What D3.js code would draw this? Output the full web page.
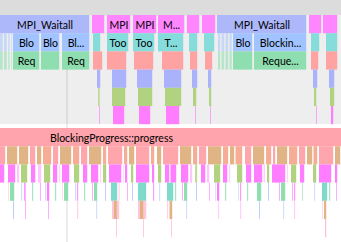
<!DOCTYPE html>
<html><head><meta charset="utf-8">
<script src="https://cdn.jsdelivr.net/npm/d3@7"></script>
<style>html,body{margin:0;padding:0;background:#fff;overflow:hidden}</style>
</head><body><svg id="c" width="341" height="242"></svg>
<script>
// ---------- DATA (label, start time, end time, category) ----------
const timeDomain = [0, 341];

const topDepth0 = [
  ["MPI_Waitall",0,90,"waitall"],["",92,105,"mpi"],["MPI",107,131,"mpi"],["MPI",133,157,"mpi"],
  ["M...",158,185,"mpi"],["",187,200,"mpi"],["",202,216,"mpi"],["MPI_Waitall",217,307,"waitall"],
  ["",309,322,"mpi"],["",323,338,"mpi"]
];
const topDepth1 = [
  ["",0,3.5,"bloPale"],["",4,7.5,"bloPale"],["",8,10.5,"bloPale"],["",11,12.5,"bloPale"],
  ["Blo",13,40,"blo"],["Blo",41,60,"blo"],["Bl...",62,90,"blo"],["",93,101,"too"],
  ["Too",107,129,"too"],["Too",133,155,"too"],["T...",158,184,"too"],["",189,198,"too"],["",204,215,"too"],
  ["",218,221,"bloPale"],["",221.5,225,"bloPale"],["",225.5,229,"bloPale"],["",229.5,232.5,"bloPale"],
  ["Blo",233,253,"blo"],["Blockin...",254,307,"blo"],["",311,320,"too"],["",326,338,"too"]
];
const topDepth2 = [
  ["",0,3.5,"reqPale"],["",4,7.5,"reqPale"],["",8,10.5,"reqPale"],["",11,12.5,"reqPale"],
  ["Req",13,40,"req"],["",41,60,"req"],["Req",62,90,"req"],["",93,103,"sal"],
  ["",107,127,"sal"],["",134,154,"sal"],["",162,184,"sal"],["",190,198,"sal"],["",205,213,"sal"],
  ["",218,221,"reqPale"],["",221.5,225,"reqPale"],["",225.5,229,"reqPale"],["",229.5,232.5,"reqPale"],
  ["",233,253,"req"],["Reque...",254,307,"req"],["",311,319,"sal"],["",326,338,"sal"]
];
const topDepth3 = [
  ["",97,101,"blue"],["",112,127,"blue"],["",137,153,"blue"],["",164,182,"blue"],
  ["",192,198,"blue"],["",208,212,"blue"],["",313,318,"blue"],["",329,335,"blue"]
];
const topDepth4 = [
  ["",98,100.5,"olive"],["",112,126,"olive"],["",138,153,"olive"],["",165,182,"olive"],
  ["",193,197,"olive"],["",209,212,"olive"],["",314,317,"olive"],["",330,335,"olive"]
];
const topDepth5 = [
  ["",99,100.2,"mag"],["",113,125,"mag"],["",139,151,"mag"],["",166,180,"mag"],
  ["",195,196.2,"mag"],["",210,211.2,"mag"],["",316,317.2,"mag"],["",331,334,"mag"]
];

const bottomDepth0 = [["BlockingProgress::progress",-122,345,"prog"]];
const bottomDepth1 = [
  ["",0,6,"pink"],["",30,36,"pink"],["",53,59,"pink"],["",81,88,"pink"],["",108,123,"pink"],["",136,150,"pink"],
  ["",163,179,"pink"],["",199,207,"pink"],["",245,252,"pink"],["",273,276,"pink"],["",299,306,"pink"],["",319,334,"pink"],
  ["",7,18,"tan"],["",19,29,"tan"],["",37,42,"tan"],["",60,72,"tan"],["",89,102,"tan"],["",129,135,"tan"],["",157,162,"tan"],
  ["",180,192,"tan"],["",208,222,"tan"],["",230,235,"tan"],["",253,265,"tan"],["",277,288,"tan"],["",307,313,"tan"],["",335,341,"tan"],
  ["",43,52,"sal2"],["",73,80,"sal2"],["",103,107,"sal2"],["",124,128,"sal2"],["",151,155,"sal2"],["",193,198,"sal2"],
  ["",223,229,"sal2"],["",235.5,243,"sal2"],["",266,272,"sal2"],["",289,298,"sal2"],["",313.5,318,"sal2"]
];
const bottomDepth2 = [
  ["",0,5,"mag"],["",8,16,"mag"],["",31,36,"mag"],["",53,58,"mag"],["",62,70,"mag"],["",83,88,"mag"],["",91,99,"mag"],
  ["",109,122,"mag"],["",125,128,"mag"],["",136,150,"mag"],["",152,155,"mag"],["",165,170,"mag"],["",170.5,177,"mag"],
  ["",181,189,"mag"],["",201,206,"mag"],["",223,228,"mag"],["",246,252,"mag"],["",254,263,"mag"],["",272,286,"mag"],
  ["",300,305,"mag"],["",319,332,"mag"],["",335,338,"mag"],
  ["",17,20,"magPale"],["",38,42,"magPale"],["",59,61,"magPale"],["",100,102,"magPale"],["",123,124.5,"magPale"],
  ["",190,193,"magPale"],["",207,210,"magPale"],["",229,231,"magPale"],["",263.5,266,"magPale"],["",287,289,"magPale"],
  ["",21,28,"olive"],["",44,51,"olive"],["",74,80,"olive"],["",103,107,"olive"],["",131,134,"olive"],["",158,162,"olive"],
  ["",195,198,"olive"],["",214,221,"olive"],["",237,243,"olive"],["",267,270,"olive"],["",291,297,"olive"],["",313,317,"olive"]
];
const bottomDepth3 = [
  ["",8,9.5,"pinkPale"],["",10,15,"req"],["",21,23,"bluePale"],["",24,26.5,"mag"],["",32,34,"req"],["",40,41,"mag"],
  ["",45,47,"bluePale"],["",47,50,"mag"],["",55,57,"req"],["",62,63.5,"pinkPale"],["",64,69,"req"],["",75,77,"bluePale"],
  ["",77,79,"mag"],["",84,86,"req"],["",92,93.5,"mag"],["",94,98,"req"],["",105,106,"blue2"],["",111,118,"teal"],
  ["",118.5,120.5,"pinkPale"],["",127,128,"mag"],["",132,133,"blue2"],["",138,147,"teal"],["",153,155,"mag"],
  ["",159,161,"bluePale"],["",167,174,"teal"],["",175,177,"req"],["",182,183,"mag"],["",184,188,"req"],["",196,197,"blue2"],
  ["",209,210,"mag"],["",215,216.5,"bluePale"],["",217,220,"mag"],["",225,227,"req"],["",238,239,"bluePale"],["",240,242,"mag"],
  ["",247,249,"req"],["",257,262,"req"],["",268,269,"blue2"],["",279,280,"mag"],["",281,286,"req"],["",292,293,"mag"],
  ["",294,296,"mag"],["",302,303.5,"req"],["",314,316,"bluePale"],["",322,328,"teal"],["",329,331,"req"],["",336,337,"mag"]
];
const bottomDepth4 = [
  ["",13,14,"blue2"],["",25,26,"mag"],["",48,49,"mag"],["",77,79,"pinkPale"],["",96,98,"bluePale"],
  ["",112,120,"pinkPale"],["",114,117.5,"tan"],["",138,147,"pinkPale"],["",140,144,"tan"],["",167,169,"pinkPale"],["",169.5,173,"tan"],
  ["",186,188,"bluePale"],["",218,220,"magPale"],["",240,242,"magPale"],["",259,260,"blue2"],["",283,285,"bluePale"],
  ["",294,296,"magPale"],["",322,323.5,"pinkPale"],["",324,327,"tan"]
];
const bottomDepth5 = [
  ["",116,117,"pink2"],["",143,144,"pink2"],["",171,172,"pink2"],["",325,327,"pink2"]
];
const cursorTime = 67;

// ---------- STYLES ----------
const colors = {
  waitall:"#a9b4fb", mpi:"#ff80ff", blo:"#9cc0ff", bloPale:"#c4d6f7", too:"#80d9d9", req:"#88dcab",
  reqPale:"#b4e4c7", sal:"#ff9d9d", blue:"#a6aefc", olive:"#add078", mag:"#ff77ff", magPale:"#ffc2ff",
  prog:"#ff9ea8", pink:"#ffa0a8", tan:"#dfb07f", sal2:"#f7a98f", teal:"#78d8c8", blue2:"#8fb0ff",
  bluePale:"#c5d4fb", pinkPale:"#ffc4d4", pink2:"#ffaac4"
};
const W = 341, H = 242, rowH = 18.2;
const topY = 15, bottomY = 128;

const svg = d3.select("#c");
const x = d3.scaleLinear().domain(timeDomain).range([0, W]);
const yDepth = d3.scaleLinear().domain([0, 1]).range([0, rowH]);

// backgrounds
svg.append("rect").attr("x",0).attr("y",0).attr("width",W).attr("height",topY).attr("fill","#dcdcdc");
svg.append("rect").attr("x",0).attr("y",topY).attr("width",W).attr("height",124-topY).attr("fill","#eeeeee");
svg.append("rect").attr("x",0).attr("y",124).attr("width",W).attr("height",H-124).attr("fill","#ffffff");

// cursor line
svg.append("rect").attr("x",x(cursorTime)-1).attr("y",topY).attr("width",2).attr("height",H-topY)
  .attr("fill","#000").attr("fill-opacity",0.07);

function drawPanel(rows, y0){
  const g = svg.append("g");
  rows.forEach((row, depth) => {
    const sel = g.selectAll(null).data(row).enter().append("g");
    sel.append("rect")
      .attr("x", d => x(d[1]))
      .attr("y", y0 + yDepth(depth))
      .attr("width", d => Math.max(x(d[2]) - x(d[1]) - 0.8, 0.8))
      .attr("height", rowH)
      .attr("fill", d => colors[d[3]])
      .attr("fill-opacity", d => (x(d[2]) - x(d[1]) < 3 ? 0.75 : 0.95));
    sel.filter(d => d[0]).append("text")
      .attr("x", d => (x(d[1]) + x(d[2])) / 2)
      .attr("y", y0 + yDepth(depth) + rowH/2 + 0.5)
      .attr("text-anchor","middle")
      .attr("dominant-baseline","central")
      .attr("font-family","Lato, 'DejaVu Sans', sans-serif")
      .attr("font-size","10.5px")
      .attr("fill","#000")
      .text(d => d[0]);
  });
}
drawPanel([topDepth0, topDepth1, topDepth2, topDepth3, topDepth4, topDepth5], topY);
drawPanel([bottomDepth0, bottomDepth1, bottomDepth2, bottomDepth3, bottomDepth4, bottomDepth5], bottomY);
</script></body></html>
